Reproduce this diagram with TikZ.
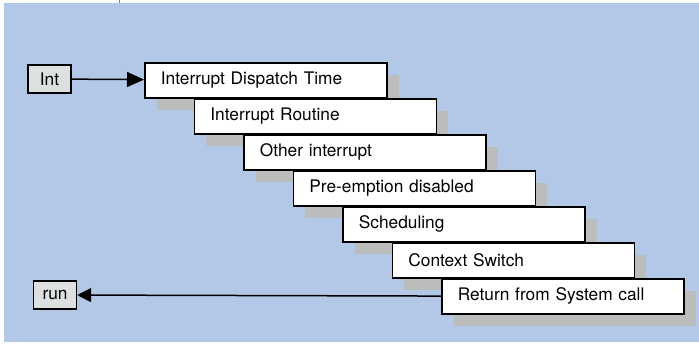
\documentclass[tikz,border=0pt]{standalone}
\usepackage{fontspec}
\setmainfont{TeX Gyre Heros}
\usepackage{tikz}
\usetikzlibrary{arrows.meta,shadows}
\definecolor{bgblue}{RGB}{179,200,230}
\definecolor{shadowgray}{RGB}{187,189,189}
\definecolor{tabgray}{RGB}{221,224,224}

\begin{document}
\begin{tikzpicture}[x=1pt,y=-1pt,font=\fontsize{17.3}{20}\selectfont,
  stage/.style={draw,line width=1.8pt,fill=white,anchor=north west,
    minimum height=35pt,text width=210pt,inner xsep=16pt,inner ysep=0pt,align=left,
    drop shadow={shadow xshift=12pt,shadow yshift=-12pt,fill=shadowgray,opacity=1}},
  tab/.style={draw,line width=1.3pt,fill=tabgray,minimum width=43pt,minimum height=28pt,inner sep=0pt}]
\useasboundingbox (0,0) rectangle (699,344);
\fill[bgblue] (4,3) rectangle (699,342);
\draw[gray] (119,0) -- (119,3);
\node[tab] (int) at (49.5,79) {Int};
\foreach \t [count=\i] in {Interrupt Dispatch Time, Interrupt Routine, Other interrupt,
  Pre-emption disabled, Scheduling, Context Switch, Return from System call}
  \node[stage] (b\i) at ({144+49.5*(\i-1)},{62+36*(\i-1)}) {\t};
\node[tab] (run) at (55,295) {run};
\draw[line width=1.5pt,-{Triangle[length=17pt,width=15pt]}] (int) -- (b1);
\draw[line width=1.5pt,-{Triangle[length=14pt,width=14pt]}] (b7) -- (run);
\end{tikzpicture}
\end{document}
